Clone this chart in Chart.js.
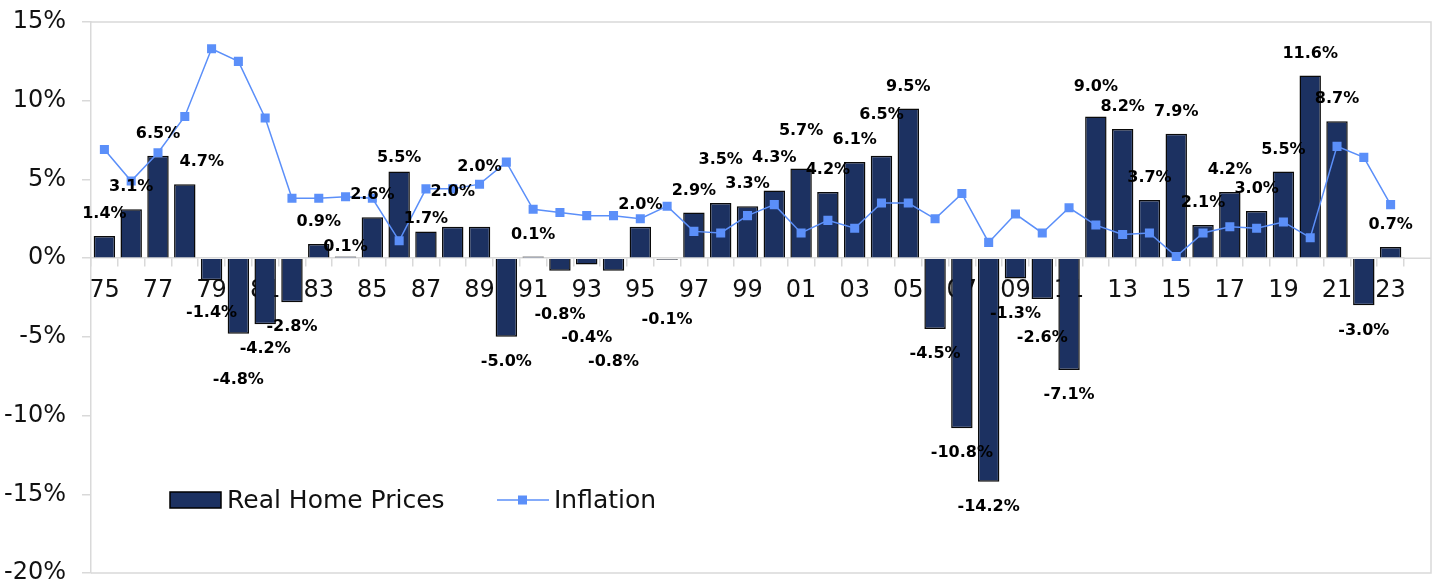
<!DOCTYPE html>
<html><head><meta charset="utf-8">
<script src="https://cdn.jsdelivr.net/npm/chart.js@4.4.1/dist/chart.umd.min.js"></script>
<style>html,body{margin:0;padding:0;background:#fff;overflow:hidden}</style>
</head><body>
<canvas id="c" width="1436" height="582" style="display:block"></canvas>
<script>
const years = ['75','76','77','78','79','80','81','82','83','84','85','86','87','88','89','90','91','92','93','94','95','96','97','98','99','00','01','02','03','04','05','06','07','08','09','10','11','12','13','14','15','16','17','18','19','20','21','22','23'];
const realHomePrices = [1.4,3.1,6.5,4.7,-1.4,-4.8,-4.2,-2.8,0.9,0.1,2.6,5.5,1.7,2.0,2.0,-5.0,0.1,-0.8,-0.4,-0.8,2.0,-0.1,2.9,3.5,3.3,4.3,5.7,4.2,6.1,6.5,9.5,-4.5,-10.8,-14.2,-1.3,-2.6,-7.1,9.0,8.2,3.7,7.9,2.1,4.2,3.0,5.5,11.6,8.7,-3.0,0.7];
const inflation = [6.9,4.9,6.7,9.0,13.3,12.5,8.9,3.8,3.8,3.9,3.8,1.1,4.4,4.4,4.7,6.1,3.1,2.9,2.7,2.7,2.5,3.3,1.7,1.6,2.7,3.4,1.6,2.4,1.9,3.5,3.5,2.5,4.1,1.0,2.8,1.6,3.2,2.1,1.5,1.6,0.1,1.6,2.0,1.9,2.3,1.3,7.1,6.4,3.4];
const yMin = -20, yMax = 15, yStep = 5;
const seriesNames = ['Real Home Prices', 'Inflation'];

// Manual data-label nudges (pixels, [dx, dy]) as placed in the original chart
const labelNudges = {3:[17,0],4:[0,8],5:[0,21],9:[0,12],11:[0,8],12:[0,9],13:[0,-13],14:[0,-38],
  17:[0,19],18:[0,48],19:[0,66],21:[0,35],23:[0,-21],25:[0,-11],26:[0,-16],29:[0,-19],34:[0,10],35:[0,14],37:[0,-8]};

const FONT = "'DejaVu Sans', sans-serif";
const BAR_COLOR = '#1c3161';
const LINE_COLOR = '#5b8ff9';
const GRID = '#d9d9d9';
const FRAME_RIGHT = 1431;

const framePlugin = {
  id: 'frame',
  beforeDatasetsDraw(chart) {
    const {ctx, chartArea: a, scales} = chart;
    const y0 = scales.y.getPixelForValue(0);
    ctx.save();
    ctx.strokeStyle = GRID; ctx.lineWidth = 1.5;
    ctx.beginPath();
    ctx.moveTo(a.left, a.top); ctx.lineTo(FRAME_RIGHT, a.top);
    ctx.lineTo(FRAME_RIGHT, a.bottom); ctx.lineTo(a.left, a.bottom);
    ctx.moveTo(a.right, y0); ctx.lineTo(FRAME_RIGHT, y0);
    ctx.stroke();
    ctx.restore();
  },
  afterDatasetsDraw(chart) {
    const {ctx} = chart;
    const meta = chart.getDatasetMeta(1);
    ctx.save();
    ctx.font = "bold 16px " + FONT;
    ctx.fillStyle = '#000';
    ctx.textAlign = 'center'; ctx.textBaseline = 'middle';
    meta.data.forEach((bar, i) => {
      const v = realHomePrices[i];
      const n = labelNudges[i] || [0, 0];
      const y = (v >= 0 ? bar.y - 22 : bar.y + 25) + n[1];
      ctx.fillText(v.toFixed(1) + '%', bar.x + n[0], y);
    });
    ctx.restore();
  },
  afterDraw(chart) {
    const {ctx} = chart;
    ctx.save();
    const ly = 500;
    ctx.fillStyle = BAR_COLOR; ctx.strokeStyle = '#000'; ctx.lineWidth = 1.5;
    ctx.fillRect(170, ly - 8, 51, 16); ctx.strokeRect(170, ly - 8, 51, 16);
    ctx.font = "25px " + FONT; ctx.fillStyle = '#111';
    ctx.textAlign = 'left'; ctx.textBaseline = 'middle';
    ctx.fillText(seriesNames[0], 227, ly + 1);
    ctx.strokeStyle = LINE_COLOR; ctx.lineWidth = 1.5;
    ctx.beginPath(); ctx.moveTo(497, ly); ctx.lineTo(549, ly); ctx.stroke();
    ctx.fillStyle = LINE_COLOR; ctx.fillRect(518, ly - 4.5, 9, 9);
    ctx.fillStyle = '#111';
    ctx.fillText(seriesNames[1], 554, ly + 1);
    ctx.restore();
  }
};

new Chart(document.getElementById('c'), {
  data: {
    labels: years,
    datasets: [
      {type: 'line', label: seriesNames[1], data: inflation, borderColor: LINE_COLOR, backgroundColor: LINE_COLOR,
       borderWidth: 1.5, pointStyle: 'rect', pointRadius: 6.4, pointBorderWidth: 0, pointBackgroundColor: LINE_COLOR, order: 0},
      {type: 'bar', label: seriesNames[0], data: realHomePrices, backgroundColor: BAR_COLOR, borderColor: '#0a0a0a',
       borderWidth: 1.5, categoryPercentage: 1, barPercentage: 0.8, order: 1}
    ]
  },
  options: {
    responsive: false, animation: false,
    layout: {padding: {top: 22, right: 32, bottom: 9, left: 0}},
    plugins: {legend: {display: false}, tooltip: {enabled: false}, title: {display: false}},
    scales: {
      x: {
        type: 'category', position: {y: 0}, offset: true,
        grid: {display: true, drawOnChartArea: false, drawTicks: true, tickLength: 8, color: GRID, lineWidth: 1.5, offset: true},
        border: {display: true, color: GRID, width: 1.5},
        ticks: {autoSkip: false, maxRotation: 0, minRotation: 0, padding: 10, color: '#111',
          font: {family: FONT, size: 24},
          callback: function(v, i) { return i % 2 === 0 ? this.getLabelForValue(v) : ''; }}
      },
      y: {
        min: yMin, max: yMax,
        afterFit(s) { s.width = 91; s.paddingTop = 0; s.paddingBottom = 0; },
        grid: {display: true, drawOnChartArea: false, drawTicks: true, tickLength: 9, color: GRID, lineWidth: 1.5},
        border: {display: true, color: GRID, width: 1.5},
        ticks: {stepSize: yStep, padding: 16, color: '#111', font: {family: FONT, size: 24},
          callback: v => v + '%'}
      }
    }
  },
  plugins: [framePlugin]
});
</script>
</body></html>
